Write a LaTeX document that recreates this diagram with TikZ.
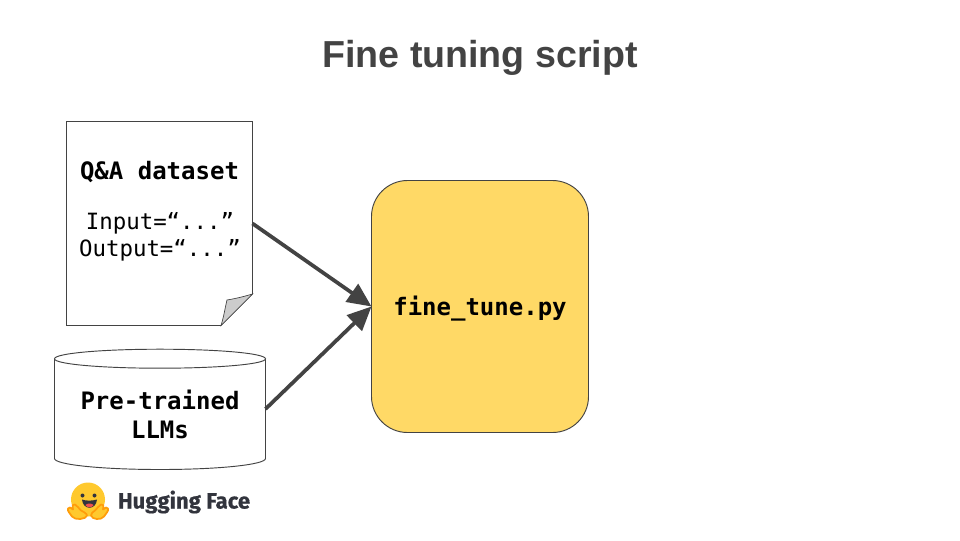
\documentclass[tikz,border=0pt]{standalone}
\usepackage{fontspec}
\setmainfont{Liberation Sans}
\setmonofont{DejaVu Sans Mono}
\newfontfamily\logofont[BoldFeatures={FakeBold=0.6}]{Fira Sans}
\definecolor{ink}{HTML}{434343}
\definecolor{boxfill}{HTML}{FFD966}
\definecolor{foldgrey}{HTML}{CCCCCC}
\definecolor{hugY}{HTML}{FFC92E}
\definecolor{hugO}{HTML}{FF9D0B}
\definecolor{hugD}{HTML}{32343D}
\definecolor{hugR}{HTML}{EF4E4E}
\usetikzlibrary{arrows.meta}
\tikzset{
  shapeline/.style={draw=ink,line width=0.7pt},
  anchorbox/.style={inner sep=0pt,outer sep=0pt,align=center,text=black},
  flow/.style={draw=ink,line width=2.8pt,-{Triangle[length=18pt,width=16pt]}},
  monob/.style={font=\fontsize{18}{21.75}\selectfont\ttfamily\bfseries},
  hand/.style={fill=hugY,draw=hugO,line width=1.3pt,line join=round},
}
\begin{document}
\begin{tikzpicture}[x=0.75pt,y=-0.75pt]
\useasboundingbox (0,0) rectangle (960,540);
\fill[white] (0,0) rectangle (960,540);
% title
\node[anchorbox,text=ink,font=\fontsize{28.2}{32}\selectfont\bfseries] (title) at (480,57.5) {Fine tuning script};
% document
\path[shapeline,fill=white] (66.5,121.5) -- (252.5,121.5) -- (252.5,294) -- (221,325.5) -- (66.5,325.5) -- cycle;
\path[shapeline,line width=0.5pt,fill=foldgrey] (221,325.5) .. controls (224,316) and (225,308) .. (227,300) .. controls (236,298.5) and (244,296.5) .. (252.5,294) -- cycle;
\node[anchorbox,minimum width=186pt*0.75,minimum height=204pt*0.75] (doc) at (159.5,223.5) {};
\node[anchorbox,monob] (doctitle) at (159.5,172) {Q\&A dataset};
\node[anchorbox,font=\fontsize{16.8}{20}\selectfont\ttfamily] (docbody) at (160,237) {Input=“...”\\Output=“...”};
% cylinder
\path[shapeline,fill=white] (54.5,358.8) -- (54.5,458.5) .. controls (54.5,464.5) and (100,469.5) .. (160,469.5) .. controls (220,469.5) and (265.5,464.5) .. (265.5,458.5) -- (265.5,358.8);
\path[shapeline,fill=white] (54.5,358.8) .. controls (54.5,353.5) and (100,349.2) .. (160,349.2) .. controls (220,349.2) and (265.5,353.5) .. (265.5,358.8) .. controls (265.5,364) and (220,368.2) .. (160,368.2) .. controls (100,368.2) and (54.5,364) .. (54.5,358.8) -- cycle;
\node[anchorbox,minimum width=211pt*0.75,minimum height=120pt*0.75] (cyl) at (160,409) {};
\node[anchorbox,monob] (cyltext) at (160,414) {Pre-trained\\LLMs};
% script box
\node[anchorbox,draw=ink,line width=0.7pt,fill=boxfill,rounded corners=27pt,minimum width=162.75pt,minimum height=189pt] (box) at (480,306.5) {};
\node[anchorbox,monob] (boxtext) at (480,309) {fine\_tune.py};
% arrows
\draw[flow] (doc.east) -- (box.west);
\draw[flow] (cyl.east) -- (box.west);
% hugging face logo
\node[anchorbox,text=hugD,font=\fontsize{16.6}{18}\selectfont\logofont\bfseries] (hf) at (184,502) {Hugging Face};
\begin{scope}[shift={(88,499.5)}]
  \fill[hugY] (0,0) circle [radius=17];
  % eyes
  \fill[hugD] (-5.5,-4) circle [radius=2];
  \fill[hugD] (6.5,-4) circle [radius=2];
  % mouth
  \fill[hugD] (-6,0) .. controls (-2,1.5) and (4,1.5) .. (9,0) .. controls (8,11) and (-5,11) .. (-6,0) -- cycle;
  \fill[hugR] (-2.5,5.5) .. controls (-1,3.5) and (4,3.5) .. (5.5,5.5) .. controls (4,8.5) and (-1,8.5) .. (-2.5,5.5) -- cycle;
  % hands
  \path[hand] (-20,9) .. controls (-19,7) and (-17,8) .. (-15,10) .. controls (-16,6) and (-15,4) .. (-13,5) .. controls (-11,6) and (-9,9) .. (-7,11) .. controls (-5,12) and (-1,14) .. (-1,16) .. controls (-2,20) and (-13,21) .. (-16,17) .. controls (-18,14) and (-21,11) .. (-20,9) -- cycle;
  \path[hand] (20,9) .. controls (19,7) and (17,8) .. (15,10) .. controls (16,6) and (15,4) .. (13,5) .. controls (11,6) and (9,9) .. (7,11) .. controls (5,12) and (3,14) .. (3,16) .. controls (4,20) and (13,21) .. (16,17) .. controls (18,14) and (21,11) .. (20,9) -- cycle;
\end{scope}
\end{tikzpicture}
\end{document}
